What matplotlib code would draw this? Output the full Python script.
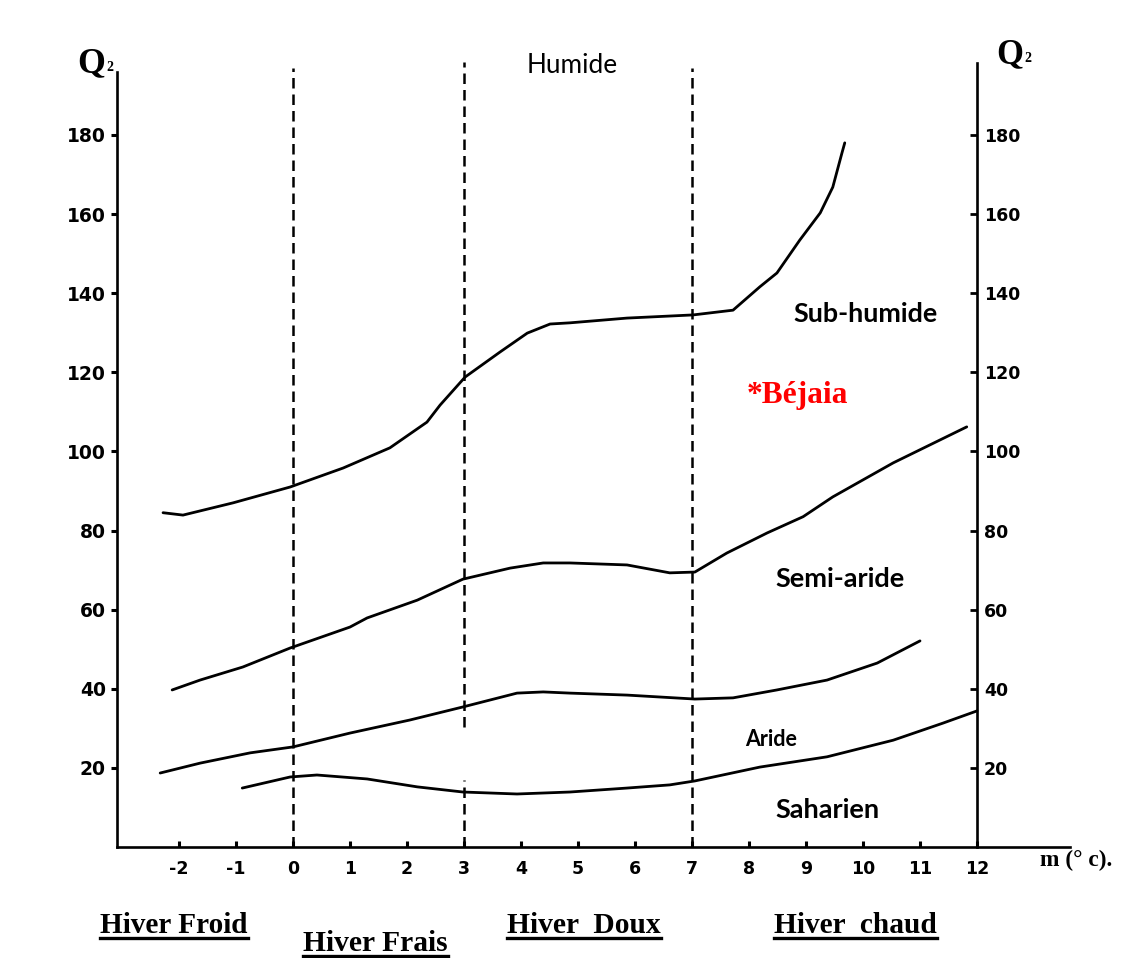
import matplotlib
matplotlib.use("Agg")
import matplotlib.pyplot as plt
from matplotlib.lines import Line2D

W, H, DPI = 1126, 958, 100

# ---------------- data ----------------
m_ticks = [-2, -1, 0, 1, 2, 3, 4, 5, 6, 7, 8, 9, 10, 11, 12]
m_labels = ["-2", "-1", "0", "1", "2", "3", "4", "5", "6", "7", "8", "9", "10", "11", "12"]
q_ticks = [20, 40, 60, 80, 100, 120, 140, 160, 180]
q_labels = ["20", "40", "60", "80", "100", "120", "140", "160", "180"]

# limit Humide / Sub-humide
hum_m = [-2.28, -1.93, -1.05, -0.05, 0.88, 1.70, 2.35, 2.58, 3.02, 3.63, 4.11, 4.51,
         4.86, 5.86, 7.02, 7.72, 8.19, 8.49, 8.89, 9.25, 9.47, 9.63, 9.68]
hum_q = [84.5, 83.9, 87.0, 91.0, 95.8, 100.9, 107.4, 111.7, 118.8, 125.1, 129.9, 132.2,
         132.5, 133.7, 134.5, 135.7, 141.6, 145.1, 153.4, 160.3, 166.8, 175.4, 178.0]

# limit Sub-humide / Semi-aride
sub_m = [-2.12, -1.63, -0.88, -0.05, 1.00, 1.30, 2.18, 2.98, 3.81, 4.39, 4.86, 5.86,
         6.61, 7.05, 7.61, 8.32, 8.95, 9.47, 10.53, 11.82]
sub_q = [39.7, 42.2, 45.5, 50.3, 55.6, 57.9, 62.4, 67.7, 70.5, 71.8, 71.8, 71.3,
         69.3, 69.5, 74.3, 79.4, 83.5, 88.5, 97.1, 106.2]

# limit Semi-aride / Aride
semi_m = [-2.33, -1.63, -0.75, 0.00, 1.00, 2.05, 2.98, 3.93, 4.39, 4.86, 5.86, 7.05,
          7.72, 8.49, 9.37, 10.25, 11.00]
semi_q = [18.7, 21.2, 23.8, 25.3, 28.8, 32.1, 35.4, 38.9, 39.2, 38.9, 38.4, 37.4,
          37.7, 39.7, 42.2, 46.5, 52.1]

# limit Aride / Saharien
ari_m = [-0.89, -0.05, 0.42, 1.30, 2.18, 2.98, 3.93, 4.86, 5.86, 6.61, 7.05, 8.19,
         9.37, 10.53, 11.40, 12.00]
ari_q = [14.9, 17.7, 18.2, 17.2, 15.2, 13.9, 13.4, 13.9, 14.9, 15.7, 16.7, 20.2,
         22.8, 27.0, 31.3, 34.4]

# winter-type boundaries (m values)
bound_m = [0, 3, 7]

# ---------------- figure ----------------
fig = plt.figure(figsize=(W / DPI, H / DPI), dpi=DPI)
fig.patch.set_facecolor("white")

X0, X1 = 117, 1070
Y0, Y1 = 847, 62
ax = fig.add_axes([X0 / W, 1 - Y0 / H, (X1 - X0) / W, (Y0 - Y1) / H])
PXM = 57.0
M_LEFT = (X0 - 293) / PXM
M_RIGHT = (X1 - 293) / PXM
Q_TOP = (Y0 - Y1) / 3.956
ax.set_xlim(M_LEFT, M_RIGHT)
ax.set_ylim(0, Q_TOP)

LW = 1.9
for s in ("top", "right"):
    ax.spines[s].set_visible(False)
ax.spines["left"].set_linewidth(LW)
ax.spines["bottom"].set_linewidth(LW)
ax.spines["left"].set_bounds(0, 196)

ax.set_xticks(m_ticks)
ax.set_xticklabels(m_labels, fontsize=12.5, fontweight="bold")
ax.tick_params(axis="x", direction="in", length=4, width=2.2, pad=9)
ax.set_yticks(q_ticks)
ax.set_yticklabels(q_labels, fontsize=13.5, fontweight="bold")
ax.tick_params(axis="y", direction="out", length=4, width=2.2, pad=4)

ax2 = ax.twinx()
ax2.set_ylim(0, Q_TOP)
for s in ("top", "left", "bottom"):
    ax2.spines[s].set_visible(False)
ax2.spines["right"].set_position(("data", 12))
ax2.spines["right"].set_linewidth(LW)
ax2.spines["right"].set_bounds(0, 198.2)
ax2.set_yticks(q_ticks)
ax2.set_yticklabels(q_labels, fontsize=12.5, fontweight="bold")
ax2.tick_params(axis="y", direction="in", length=5, width=2, pad=5)

# curves
for xs, ys in ((hum_m, hum_q), (sub_m, sub_q), (semi_m, semi_q), (ari_m, ari_q)):
    ax.plot(xs, ys, color="black", lw=2.0, solid_capstyle="round", solid_joinstyle="round")

# dashed boundaries
dash = (4.2, 2.4)
ax.plot([bound_m[0], bound_m[0]], [0, 197], color="black", lw=1.8, dashes=dash)
ax.plot([bound_m[1], bound_m[1]], [30.3, 198.4], color="black", lw=1.8, dashes=dash)
ax.plot([bound_m[1], bound_m[1]], [0, 17], color="black", lw=1.8, dashes=dash)
ax.plot([bound_m[2], bound_m[2]], [0, 197], color="black", lw=1.8, dashes=dash)

# ---------------- texts ----------------
def fpos(x, y):
    return x / W, 1 - y / H

renderer = fig.canvas.get_renderer()

def put(text, x_left, baseline, width=None, **kw):
    t = fig.text(*fpos(x_left, baseline), text, ha="left", va="baseline", **kw)
    if width:
        w = t.get_window_extent(renderer).width
        if w > 0:
            t.set_fontsize(t.get_fontsize() * width / w)
    return t

SANS = ["Lato", "DejaVu Sans"]
SERIF = ["Liberation Serif", "DejaVu Serif"]

put("Humide", 527, 73, 91, fontsize=16, family=SANS)
put("Sub-humide", 793, 322, 145, fontsize=17, family=SANS, fontweight="bold")
put("*Béjaia", 747, 403, 101, fontsize=18, family=SERIF, fontweight="bold", color="#ff0000")
put("Semi-aride", 775, 587, 130, fontsize=17, family=SANS, fontweight="bold")
put("Aride", 745, 746, 52, fontsize=12, family=SANS, fontweight="bold")
put("Saharien", 775, 818, 105, fontsize=17, family=SANS, fontweight="bold")

# axis titles
put("Q", 77, 72, 28, fontsize=18, family=SERIF, fontweight="bold")
put("2", 106, 71, None, fontsize=10, family=SERIF, fontweight="bold")
put("Q", 996, 63, 27, fontsize=18, family=SERIF, fontweight="bold")
put("2", 1024, 62, None, fontsize=10, family=SERIF, fontweight="bold")
put("m (° c).", 1040, 866, 72, fontsize=11, family=SERIF, fontweight="bold")

# winter types (underlined)
bottom = [("Hiver Froid", 100, 933, 147),
          ("Hiver Frais", 303, 951, 144),
          ("Hiver  Doux", 507, 933, 153),
          ("Hiver  chaud", 774, 933, 162)]
for txt, xl, bl, wd in bottom:
    t = put(txt, xl, bl, wd, fontsize=18, family=SERIF, fontweight="bold")
    bb = t.get_window_extent(renderer)
    yline = 1 - (bl + 5) / H
    fig.add_artist(Line2D([bb.x0 / W, bb.x1 / W], [yline, yline],
                          transform=fig.transFigure, color="black", lw=2.4))

fig.savefig("out.png", dpi=DPI, facecolor="white")
